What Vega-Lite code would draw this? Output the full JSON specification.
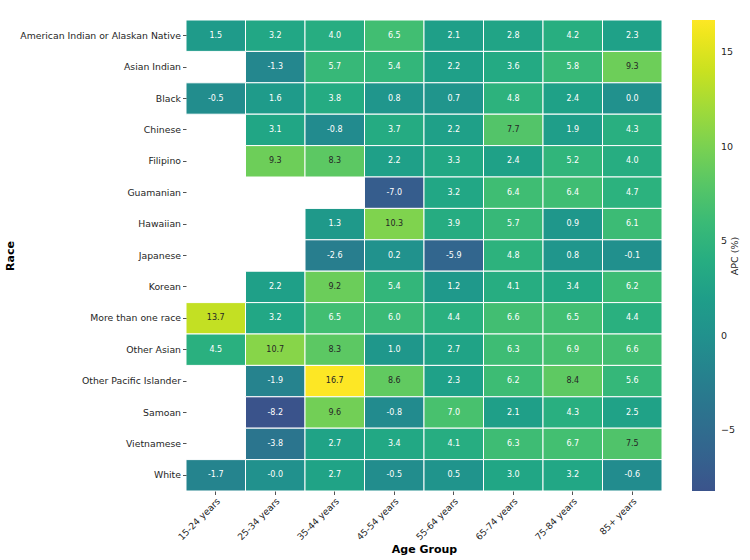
{
  "$schema": "https://vega.github.io/schema/vega-lite/v6.json",
  "autosize": {"type": "none"},
  "padding": {"left": 186, "top": 20, "right": 88, "bottom": 69},
  "width": 476,
  "height": 471,
  "background": "white",
  "config": {"view": {"stroke": null}, "font": "DejaVu Sans"},
  "data": {"values": [
    {"Race": "American Indian or Alaskan Native", "Age": "15-24 years", "APC": 1.5, "Label": "1.5"},
    {"Race": "American Indian or Alaskan Native", "Age": "25-34 years", "APC": 3.2, "Label": "3.2"},
    {"Race": "American Indian or Alaskan Native", "Age": "35-44 years", "APC": 4.0, "Label": "4.0"},
    {"Race": "American Indian or Alaskan Native", "Age": "45-54 years", "APC": 6.5, "Label": "6.5"},
    {"Race": "American Indian or Alaskan Native", "Age": "55-64 years", "APC": 2.1, "Label": "2.1"},
    {"Race": "American Indian or Alaskan Native", "Age": "65-74 years", "APC": 2.8, "Label": "2.8"},
    {"Race": "American Indian or Alaskan Native", "Age": "75-84 years", "APC": 4.2, "Label": "4.2"},
    {"Race": "American Indian or Alaskan Native", "Age": "85+ years", "APC": 2.3, "Label": "2.3"},
    {"Race": "Asian Indian", "Age": "25-34 years", "APC": -1.3, "Label": "-1.3"},
    {"Race": "Asian Indian", "Age": "35-44 years", "APC": 5.7, "Label": "5.7"},
    {"Race": "Asian Indian", "Age": "45-54 years", "APC": 5.4, "Label": "5.4"},
    {"Race": "Asian Indian", "Age": "55-64 years", "APC": 2.2, "Label": "2.2"},
    {"Race": "Asian Indian", "Age": "65-74 years", "APC": 3.6, "Label": "3.6"},
    {"Race": "Asian Indian", "Age": "75-84 years", "APC": 5.8, "Label": "5.8"},
    {"Race": "Asian Indian", "Age": "85+ years", "APC": 9.3, "Label": "9.3"},
    {"Race": "Black", "Age": "15-24 years", "APC": -0.5, "Label": "-0.5"},
    {"Race": "Black", "Age": "25-34 years", "APC": 1.6, "Label": "1.6"},
    {"Race": "Black", "Age": "35-44 years", "APC": 3.8, "Label": "3.8"},
    {"Race": "Black", "Age": "45-54 years", "APC": 0.8, "Label": "0.8"},
    {"Race": "Black", "Age": "55-64 years", "APC": 0.7, "Label": "0.7"},
    {"Race": "Black", "Age": "65-74 years", "APC": 4.8, "Label": "4.8"},
    {"Race": "Black", "Age": "75-84 years", "APC": 2.4, "Label": "2.4"},
    {"Race": "Black", "Age": "85+ years", "APC": 0.0, "Label": "0.0"},
    {"Race": "Chinese", "Age": "25-34 years", "APC": 3.1, "Label": "3.1"},
    {"Race": "Chinese", "Age": "35-44 years", "APC": -0.8, "Label": "-0.8"},
    {"Race": "Chinese", "Age": "45-54 years", "APC": 3.7, "Label": "3.7"},
    {"Race": "Chinese", "Age": "55-64 years", "APC": 2.2, "Label": "2.2"},
    {"Race": "Chinese", "Age": "65-74 years", "APC": 7.7, "Label": "7.7"},
    {"Race": "Chinese", "Age": "75-84 years", "APC": 1.9, "Label": "1.9"},
    {"Race": "Chinese", "Age": "85+ years", "APC": 4.3, "Label": "4.3"},
    {"Race": "Filipino", "Age": "25-34 years", "APC": 9.3, "Label": "9.3"},
    {"Race": "Filipino", "Age": "35-44 years", "APC": 8.3, "Label": "8.3"},
    {"Race": "Filipino", "Age": "45-54 years", "APC": 2.2, "Label": "2.2"},
    {"Race": "Filipino", "Age": "55-64 years", "APC": 3.3, "Label": "3.3"},
    {"Race": "Filipino", "Age": "65-74 years", "APC": 2.4, "Label": "2.4"},
    {"Race": "Filipino", "Age": "75-84 years", "APC": 5.2, "Label": "5.2"},
    {"Race": "Filipino", "Age": "85+ years", "APC": 4.0, "Label": "4.0"},
    {"Race": "Guamanian", "Age": "45-54 years", "APC": -7.0, "Label": "-7.0"},
    {"Race": "Guamanian", "Age": "55-64 years", "APC": 3.2, "Label": "3.2"},
    {"Race": "Guamanian", "Age": "65-74 years", "APC": 6.4, "Label": "6.4"},
    {"Race": "Guamanian", "Age": "75-84 years", "APC": 6.4, "Label": "6.4"},
    {"Race": "Guamanian", "Age": "85+ years", "APC": 4.7, "Label": "4.7"},
    {"Race": "Hawaiian", "Age": "35-44 years", "APC": 1.3, "Label": "1.3"},
    {"Race": "Hawaiian", "Age": "45-54 years", "APC": 10.3, "Label": "10.3"},
    {"Race": "Hawaiian", "Age": "55-64 years", "APC": 3.9, "Label": "3.9"},
    {"Race": "Hawaiian", "Age": "65-74 years", "APC": 5.7, "Label": "5.7"},
    {"Race": "Hawaiian", "Age": "75-84 years", "APC": 0.9, "Label": "0.9"},
    {"Race": "Hawaiian", "Age": "85+ years", "APC": 6.1, "Label": "6.1"},
    {"Race": "Japanese", "Age": "35-44 years", "APC": -2.6, "Label": "-2.6"},
    {"Race": "Japanese", "Age": "45-54 years", "APC": 0.2, "Label": "0.2"},
    {"Race": "Japanese", "Age": "55-64 years", "APC": -5.9, "Label": "-5.9"},
    {"Race": "Japanese", "Age": "65-74 years", "APC": 4.8, "Label": "4.8"},
    {"Race": "Japanese", "Age": "75-84 years", "APC": 0.8, "Label": "0.8"},
    {"Race": "Japanese", "Age": "85+ years", "APC": -0.1, "Label": "-0.1"},
    {"Race": "Korean", "Age": "25-34 years", "APC": 2.2, "Label": "2.2"},
    {"Race": "Korean", "Age": "35-44 years", "APC": 9.2, "Label": "9.2"},
    {"Race": "Korean", "Age": "45-54 years", "APC": 5.4, "Label": "5.4"},
    {"Race": "Korean", "Age": "55-64 years", "APC": 1.2, "Label": "1.2"},
    {"Race": "Korean", "Age": "65-74 years", "APC": 4.1, "Label": "4.1"},
    {"Race": "Korean", "Age": "75-84 years", "APC": 3.4, "Label": "3.4"},
    {"Race": "Korean", "Age": "85+ years", "APC": 6.2, "Label": "6.2"},
    {"Race": "More than one race", "Age": "15-24 years", "APC": 13.7, "Label": "13.7"},
    {"Race": "More than one race", "Age": "25-34 years", "APC": 3.2, "Label": "3.2"},
    {"Race": "More than one race", "Age": "35-44 years", "APC": 6.5, "Label": "6.5"},
    {"Race": "More than one race", "Age": "45-54 years", "APC": 6.0, "Label": "6.0"},
    {"Race": "More than one race", "Age": "55-64 years", "APC": 4.4, "Label": "4.4"},
    {"Race": "More than one race", "Age": "65-74 years", "APC": 6.6, "Label": "6.6"},
    {"Race": "More than one race", "Age": "75-84 years", "APC": 6.5, "Label": "6.5"},
    {"Race": "More than one race", "Age": "85+ years", "APC": 4.4, "Label": "4.4"},
    {"Race": "Other Asian", "Age": "15-24 years", "APC": 4.5, "Label": "4.5"},
    {"Race": "Other Asian", "Age": "25-34 years", "APC": 10.7, "Label": "10.7"},
    {"Race": "Other Asian", "Age": "35-44 years", "APC": 8.3, "Label": "8.3"},
    {"Race": "Other Asian", "Age": "45-54 years", "APC": 1.0, "Label": "1.0"},
    {"Race": "Other Asian", "Age": "55-64 years", "APC": 2.7, "Label": "2.7"},
    {"Race": "Other Asian", "Age": "65-74 years", "APC": 6.3, "Label": "6.3"},
    {"Race": "Other Asian", "Age": "75-84 years", "APC": 6.9, "Label": "6.9"},
    {"Race": "Other Asian", "Age": "85+ years", "APC": 6.6, "Label": "6.6"},
    {"Race": "Other Pacific Islander", "Age": "25-34 years", "APC": -1.9, "Label": "-1.9"},
    {"Race": "Other Pacific Islander", "Age": "35-44 years", "APC": 16.7, "Label": "16.7"},
    {"Race": "Other Pacific Islander", "Age": "45-54 years", "APC": 8.6, "Label": "8.6"},
    {"Race": "Other Pacific Islander", "Age": "55-64 years", "APC": 2.3, "Label": "2.3"},
    {"Race": "Other Pacific Islander", "Age": "65-74 years", "APC": 6.2, "Label": "6.2"},
    {"Race": "Other Pacific Islander", "Age": "75-84 years", "APC": 8.4, "Label": "8.4"},
    {"Race": "Other Pacific Islander", "Age": "85+ years", "APC": 5.6, "Label": "5.6"},
    {"Race": "Samoan", "Age": "25-34 years", "APC": -8.2, "Label": "-8.2"},
    {"Race": "Samoan", "Age": "35-44 years", "APC": 9.6, "Label": "9.6"},
    {"Race": "Samoan", "Age": "45-54 years", "APC": -0.8, "Label": "-0.8"},
    {"Race": "Samoan", "Age": "55-64 years", "APC": 7.0, "Label": "7.0"},
    {"Race": "Samoan", "Age": "65-74 years", "APC": 2.1, "Label": "2.1"},
    {"Race": "Samoan", "Age": "75-84 years", "APC": 4.3, "Label": "4.3"},
    {"Race": "Samoan", "Age": "85+ years", "APC": 2.5, "Label": "2.5"},
    {"Race": "Vietnamese", "Age": "25-34 years", "APC": -3.8, "Label": "-3.8"},
    {"Race": "Vietnamese", "Age": "35-44 years", "APC": 2.7, "Label": "2.7"},
    {"Race": "Vietnamese", "Age": "45-54 years", "APC": 3.4, "Label": "3.4"},
    {"Race": "Vietnamese", "Age": "55-64 years", "APC": 4.1, "Label": "4.1"},
    {"Race": "Vietnamese", "Age": "65-74 years", "APC": 6.3, "Label": "6.3"},
    {"Race": "Vietnamese", "Age": "75-84 years", "APC": 6.7, "Label": "6.7"},
    {"Race": "Vietnamese", "Age": "85+ years", "APC": 7.5, "Label": "7.5"},
    {"Race": "White", "Age": "15-24 years", "APC": -1.7, "Label": "-1.7"},
    {"Race": "White", "Age": "25-34 years", "APC": -0.0, "Label": "-0.0"},
    {"Race": "White", "Age": "35-44 years", "APC": 2.7, "Label": "2.7"},
    {"Race": "White", "Age": "45-54 years", "APC": -0.5, "Label": "-0.5"},
    {"Race": "White", "Age": "55-64 years", "APC": 0.5, "Label": "0.5"},
    {"Race": "White", "Age": "65-74 years", "APC": 3.0, "Label": "3.0"},
    {"Race": "White", "Age": "75-84 years", "APC": 3.2, "Label": "3.2"},
    {"Race": "White", "Age": "85+ years", "APC": -0.6, "Label": "-0.6"}
  ]},
  "encoding": {
    "x": {
      "field": "Age", "type": "nominal",
      "sort": ["15-24 years","25-34 years","35-44 years","45-54 years","55-64 years","65-74 years","75-84 years","85+ years"],
      "scale": {"domain": ["15-24 years","25-34 years","35-44 years","45-54 years","55-64 years","65-74 years","75-84 years","85+ years"], "paddingInner": 0, "paddingOuter": 0},
      "axis": {
        "title": "Age Group", "titleFontWeight": "bold", "titleFontSize": 11, "titleColor": "#000000", "titlePadding": 2,
        "labelAngle": -45, "labelFontSize": 9.2, "labelColor": "#262626", "labelPadding": 2,
        "tickSize": 3.5, "tickColor": "#262626", "tickWidth": 0.8, "domain": false, "grid": false
      }
    },
    "y": {
      "field": "Race", "type": "nominal",
      "scale": {"paddingInner": 0, "paddingOuter": 0},
      "axis": {
        "title": "Race", "titleFontWeight": "bold", "titleFontSize": 11, "titleColor": "#000000", "titlePadding": 4,
        "labelFontSize": 9.3, "labelColor": "#262626", "labelPadding": 2, "labelLimit": 300,
        "tickSize": 3.5, "tickColor": "#262626", "tickWidth": 0.8, "domain": false, "grid": false
      }
    }
  },
  "layer": [
    {
      "mark": {"type": "rect", "stroke": "white", "strokeWidth": 1},
      "encoding": {
        "color": {
          "field": "APC", "type": "quantitative",
          "scale": {"scheme": {"name": "viridis", "extent": [0.2545, 1]}, "domain": [-8.2, 16.7]},
          "legend": {
            "title": "APC (%)", "orient": "none", "legendX": 506, "legendY": 0,
            "gradientLength": 471, "gradientThickness": 23, "gradientStrokeWidth": 0,
            "values": [-5, 0, 5, 10, 15], "labelFontSize": 9.5, "labelColor": "#262626", "labelOffset": 6,
            "titleOrient": "right", "titleFontSize": 9.5, "titleFontWeight": "normal", "titleColor": "#262626",
            "titleAnchor": "middle", "titlePadding": 5,
            "encode": {"title": {"update": {"angle": {"value": -90}}}}
          }
        }
      }
    },
    {
      "mark": {"type": "text", "fontSize": 8},
      "encoding": {
        "text": {"field": "Label"},
        "color": {"condition": {"test": "datum.APC > 7.2", "value": "#262626"}, "value": "white"}
      }
    }
  ]
}
